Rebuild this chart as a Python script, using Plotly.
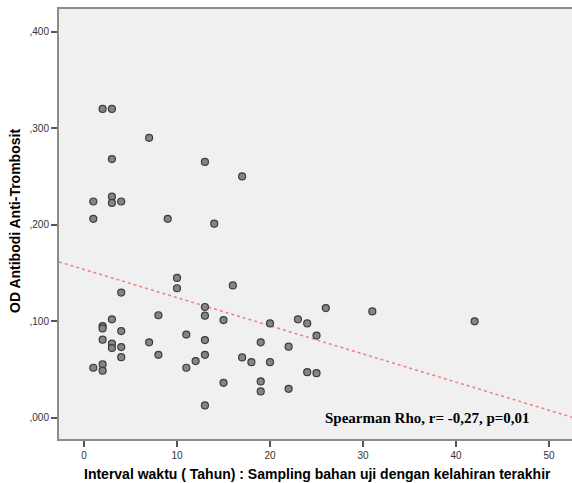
import plotly.graph_objects as go

# Data
interval_years = [1, 1, 1, 2, 2, 2, 2, 2, 2, 3, 3, 3, 3, 3, 3, 3, 4, 4, 4, 4, 4,
                  7, 7, 8, 8, 9, 10, 10, 11, 11, 12, 13, 13, 13, 13, 13, 13, 14,
                  15, 15, 16, 17, 17, 18, 19, 19, 19, 20, 20, 22, 22, 23, 24, 24,
                  25, 25, 26, 31, 42]
od_values = [0.224, 0.206, 0.0516, 0.320, 0.0948, 0.0924, 0.0807, 0.055, 0.0485,
             0.320, 0.268, 0.229, 0.2225, 0.1018, 0.0765, 0.072, 0.224, 0.1295,
             0.0896, 0.073, 0.0626, 0.290, 0.0779, 0.106, 0.065, 0.206, 0.1447,
             0.134, 0.086, 0.0516, 0.0585, 0.265, 0.1146, 0.1056, 0.0803, 0.065,
             0.0125, 0.201, 0.101, 0.036, 0.137, 0.250, 0.0623, 0.0574, 0.078,
             0.0374, 0.027, 0.0976, 0.0574, 0.0734, 0.0297, 0.1018, 0.0976, 0.047,
             0.085, 0.046, 0.1135, 0.110, 0.0997]

# Fit line parameters
fit_intercept = 0.1535
fit_slope = -0.00292

x_tickvals = [0, 10, 20, 30, 40, 50]
y_tickvals = [0.0, 0.1, 0.2, 0.3, 0.4]
y_ticktext = [",000", ",100", ",200", ",300", ",400"]

x_range = [-2.69, 52.47]
y_range = [-0.0223, 0.4236]

x_title = "Interval waktu ( Tahun) : Sampling bahan uji dengan kelahiran terakhir"
y_title = "OD Antibodi Anti-Trombosit"
stat_text = "Spearman Rho, r= -0,27, p=0,01"

fit_x = [x_range[0], x_range[1] + 2]
fit_y = [fit_intercept + fit_slope * v for v in fit_x]

fig = go.Figure()
fig.add_trace(go.Scatter(
    x=fit_x, y=fit_y, mode="lines",
    line=dict(color="#f07f7f", width=1.5, dash="dot"),
    hoverinfo="skip", showlegend=False,
))
fig.add_trace(go.Scatter(
    x=interval_years, y=od_values, mode="markers",
    marker=dict(size=7, color="#858585", line=dict(color="#3c3c3c", width=1.2)),
    showlegend=False,
))

axis_font = dict(family="Liberation Sans, Arial, sans-serif", size=10, color="#333333")
title_font = dict(family="Liberation Sans, Arial, sans-serif", size=14, color="black")

fig.update_layout(
    width=572, height=483,
    margin=dict(l=59, r=0, t=9, b=44),
    paper_bgcolor="white",
    plot_bgcolor="#f0f0f0",
    showlegend=False,
    xaxis=dict(
        range=x_range, tickvals=x_tickvals, ticks="outside", ticklen=6,
        tickcolor="#555555", tickwidth=1.5, tickfont=axis_font,
        showgrid=False, zeroline=False, showline=True, linecolor="#8c8c8c",
        linewidth=2, mirror=True,
    ),
    yaxis=dict(
        range=y_range, tickvals=y_tickvals, ticktext=y_ticktext, ticks="outside",
        ticklen=6, tickcolor="#555555", tickwidth=1.5, tickfont=axis_font,
        showgrid=False, zeroline=False, showline=True, linecolor="#8c8c8c",
        linewidth=2,
    ),
    annotations=[
        dict(text="<b>" + stat_text + "</b>", x=36.9, y=0.0, xref="x", yref="y",
             showarrow=False, xanchor="center", yanchor="middle",
             font=dict(family="Liberation Serif, Times New Roman, serif", size=15,
                       color="black")),
        dict(text="<b>" + x_title + "</b>", x=0.503, y=0, xref="paper",
             yref="paper", xanchor="center", yanchor="middle", yshift=-35,
             showarrow=False, font=title_font),
        dict(text="<b>" + y_title + "</b>", x=0, y=0.507, xref="paper", yref="paper",
             xanchor="center", yanchor="middle", showarrow=False, textangle=-90,
             xshift=-44, font=title_font),
    ],
)

fig.write_html("out.html", config={"displayModeBar": False},
               post_script="document.body.style.margin='0';")
